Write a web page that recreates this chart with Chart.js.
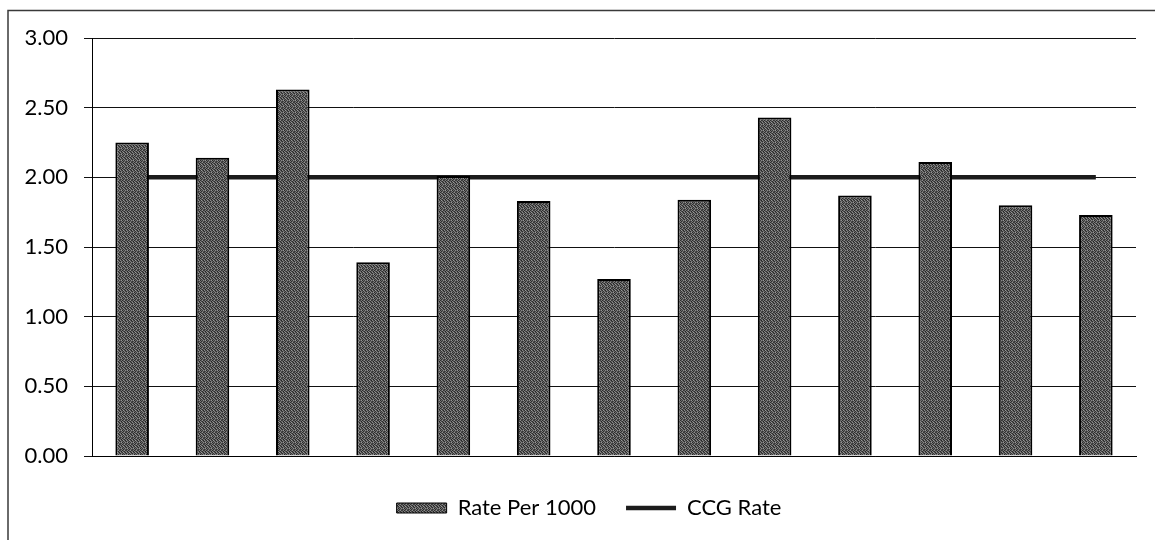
<!DOCTYPE html>
<html>
<head>
<meta charset="utf-8">
<script src="https://cdn.jsdelivr.net/npm/chart.js@4/dist/chart.umd.min.js"></script>
<style>
  html, body { margin: 0; padding: 0; background: #fff; }
  #wrap { width: 1155px; height: 540px; position: relative; }
</style>
</head>
<body>
<div id="wrap"><canvas id="chart" width="1155" height="540"></canvas></div>
<script>
// Categories (unlabelled on the axis)
const categories = ['1', '2', '3', '4', '5', '6', '7', '8', '9', '10', '11', '12', '13'];
// Rate per 1000 for each category
const ratePer1000 = [2.25, 2.14, 2.63, 1.39, 2.01, 1.83, 1.27, 1.84, 2.43, 1.87, 2.11, 1.80, 1.73];
// CCG-wide reference rate
const ccgRate = [2.00, 2.00, 2.00, 2.00, 2.00, 2.00, 2.00, 2.00, 2.00, 2.00, 2.00, 2.00, 2.00];
// Value axis ticks
const yTicks = [0.00, 0.50, 1.00, 1.50, 2.00, 2.50, 3.00];

const FONT = 'Lato, "Open Sans", sans-serif';
const LINE_COL = '#1c1c1c';

// Grainy grey fill for the bars: a fixed 6x6 tile of shades
const GRAIN = [
  [0x40, 0x7a, 0x2c, 0x5e, 0x90, 0x36],
  [0x68, 0x22, 0x86, 0x4a, 0x2c, 0x72],
  [0x8b, 0x4f, 0x31, 0x9a, 0x54, 0x27],
  [0x2c, 0x77, 0x5e, 0x36, 0x81, 0x4a],
  [0x5e, 0x95, 0x27, 0x6d, 0x3b, 0x8b],
  [0x36, 0x4a, 0x7c, 0x2c, 0x68, 0x54]
];
function grainPattern() {
  const c = document.createElement('canvas');
  c.width = 6; c.height = 6;
  const g = c.getContext('2d');
  GRAIN.forEach((row, y) => row.forEach((v, x) => {
    g.fillStyle = `rgb(${v},${v},${v})`;
    g.fillRect(x, y, 1, 1);
  }));
  return g.createPattern(c, 'repeat');
}
const BAR_FILL = grainPattern();

// Thin frame around the chart object (left and top edges)
const framePlugin = {
  id: 'frame',
  beforeDraw(chart) {
    const ctx = chart.ctx;
    ctx.save();
    ctx.strokeStyle = '#3a3a3a';
    ctx.lineWidth = 1.5;
    ctx.beginPath();
    ctx.moveTo(8, 540);
    ctx.lineTo(8, 10.5);
    ctx.lineTo(1155, 10.5);
    ctx.stroke();
    ctx.restore();
  }
};

// Nudge the legend row so it sits centred under the plot area
const legendShift = {
  id: 'legendShift',
  afterLayout(chart) {
    const lg = chart.legend;
    if (lg) { lg.left += 21; lg.right += 21; }
  }
};

new Chart(document.getElementById('chart'), {
  data: {
    labels: categories,
    datasets: [
      {
        type: 'bar',
        label: 'Rate Per 1000',
        data: ratePer1000,
        backgroundColor: BAR_FILL,
        borderColor: '#000',
        borderWidth: 2,
        barPercentage: 0.418,
        categoryPercentage: 1.0,
        order: 1
      },
      {
        type: 'line',
        label: 'CCG Rate',
        data: ccgRate,
        borderColor: LINE_COL,
        backgroundColor: LINE_COL,
        borderWidth: 4.5,
        pointRadius: 0,
        tension: 0,
        order: 2
      }
    ]
  },
  options: {
    responsive: false,
    animation: false,
    devicePixelRatio: 1,
    layout: { padding: { left: 0, right: 19, top: 38, bottom: 11 } },
    plugins: {
      tooltip: { enabled: false },
      legend: {
        position: 'bottom',
        labels: {
          font: { family: FONT, size: 22 },
          color: '#000',
          usePointStyle: true,
          pointStyleWidth: 50,
          boxHeight: 10,
          padding: 30,
          generateLabels() {
            return [
              { text: 'Rate Per 1000', fillStyle: BAR_FILL, strokeStyle: '#000', lineWidth: 1, pointStyle: 'rect', datasetIndex: 0, fontColor: '#000' },
              { text: 'CCG Rate', fillStyle: LINE_COL, strokeStyle: LINE_COL, lineWidth: 4.5, pointStyle: 'line', datasetIndex: 1, fontColor: '#000' }
            ];
          }
        }
      }
    },
    scales: {
      x: {
        grid: { display: false },
        ticks: { display: false },
        border: { display: true, color: '#000', width: 1 },
        afterFit(s) { s.height = 11; }
      },
      y: {
        min: 0,
        max: 3,
        afterBuildTicks(s) { s.ticks = yTicks.map(v => ({ value: v })); },
        ticks: {
          font: { family: FONT, size: 22 },
          color: '#000',
          padding: 16,
          callback: v => Number(v).toFixed(2)
        },
        grid: { color: '#111', lineWidth: 1, tickLength: 8, drawTicks: true },
        border: { display: true, color: '#000', width: 1 },
        afterFit(s) { s.width = 92; }
      }
    }
  },
  plugins: [framePlugin, legendShift]
});
</script>
</body>
</html>
